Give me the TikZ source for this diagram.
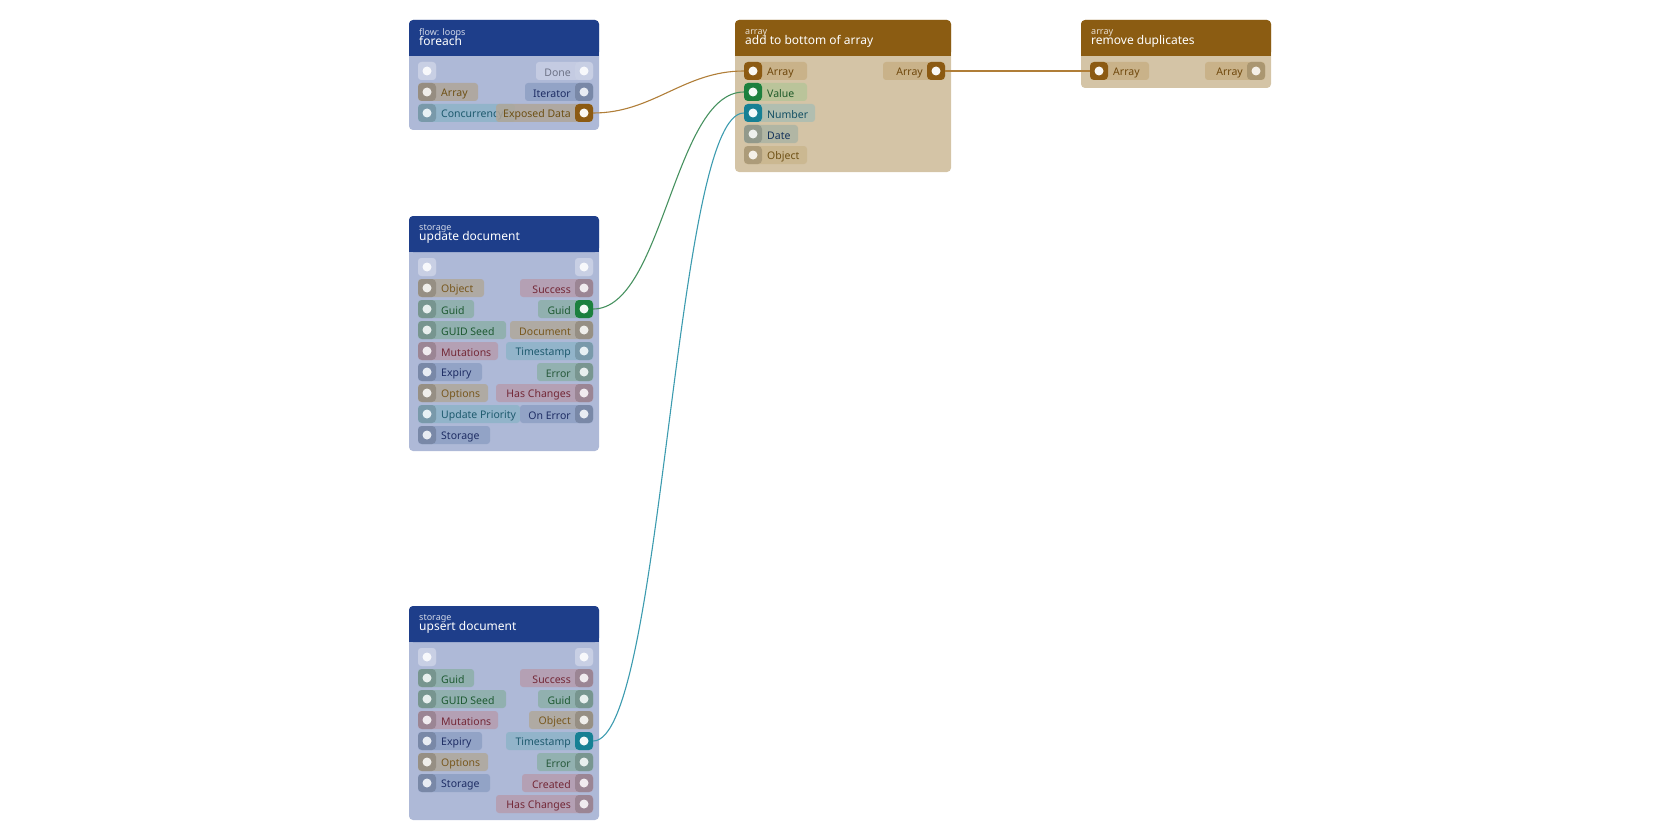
\documentclass[tikz,border=0pt]{standalone}
\usepackage{fontspec}
\setmainfont{Noto Sans}
\begin{document}
\definecolor{hdrB}{RGB}{30,62,138}
\definecolor{bodB}{RGB}{174,185,215}
\definecolor{hdrA}{RGB}{139,92,18}
\definecolor{bodA}{RGB}{212,196,166}
\definecolor{Pexe}{RGB}{200,207,228}\definecolor{Texe}{RGB}{110,115,135}
\definecolor{Pobj}{RGB}{176,168,155}\definecolor{Tobj}{RGB}{120,88,30}
\definecolor{Parr}{RGB}{176,166,152}\definecolor{Tarr}{RGB}{110,80,20}
\definecolor{Pgid}{RGB}{140,175,168}\definecolor{Tgid}{RGB}{30,90,50}
\definecolor{Pmut}{RGB}{182,156,174}\definecolor{Tmut}{RGB}{115,40,55}
\definecolor{Pblu}{RGB}{142,160,196}\definecolor{Tblu}{RGB}{30,45,100}
\definecolor{Ptea}{RGB}{142,180,200}\definecolor{Ttea}{RGB}{30,90,110}
\definecolor{Perr}{RGB}{142,176,170}\definecolor{Terr}{RGB}{40,90,60}
\definecolor{PaA}{RGB}{200,176,132}\definecolor{TaA}{RGB}{110,70,10}
\definecolor{Pval}{RGB}{182,196,152}\definecolor{Tval}{RGB}{30,90,40}
\definecolor{Pnum}{RGB}{172,190,178}\definecolor{Tnum}{RGB}{20,80,100}
\definecolor{Pdat}{RGB}{172,180,164}\definecolor{Tdat}{RGB}{20,50,90}
\definecolor{PoA}{RGB}{202,182,142}\definecolor{ToA}{RGB}{110,80,20}
\definecolor{HLo}{RGB}{140,90,18}
\definecolor{HLg}{RGB}{28,128,62}
\definecolor{HLt}{RGB}{22,128,148}
\definecolor{Eo}{RGB}{176,126,56}
\definecolor{Eg}{RGB}{70,145,95}
\definecolor{Et}{RGB}{60,155,175}
\tikzset{
  lbl/.style={text=#1,font=\fontsize{10.5}{12}\selectfont,inner sep=0},
  port/.style={rounded corners=4,fill=#1,minimum size=18,inner sep=0},
  dot/.style={circle,fill=#1,minimum size=9,inner sep=0},
  wire/.style={line width=1.1,draw=#1},
}
% left port: id, y, width, type, label, square color, dot color
\newcommand\LP[7]{%
  \fill[rounded corners=3,fill=P#4,fill opacity=0.85] (9,#2-9) rectangle ++(#3,18);
  \node[port=#6] (#1) at (18,#2) {};
  \node[dot=#7] at (18,#2) {};
  \node[lbl=T#4,anchor=west] at (32,#2+1.5) {#5};}
% right port: id, y, width, type, label, square color, dot color, right x
\newcommand\RP[8]{%
  \fill[rounded corners=3,fill=P#4,fill opacity=0.85] (#8-#3,#2-9) rectangle (#8,#2+9);
  \node[port=#6] (#1) at (#8-9,#2) {};
  \node[dot=#7] at (#8-9,#2) {};
  \node[lbl=T#4,anchor=east] at (#8-22,#2+1.5) {#5};}
\newcommand\NODE[6]{% w,h,header color,body color,cat,title
  \fill[rounded corners=4,fill=#4] (0,0) rectangle (#1,#2);
  \fill[rounded corners=4,fill=#3] (0,0) rectangle (#1,36);
  \fill[fill=#3] (0,20) rectangle (#1,36);
  \node[anchor=west,inner sep=0,text=white!80!#3,font=\fontsize{9}{10}\selectfont] at (10,13) {#5};
  \node[anchor=west,inner sep=0,text=white,font=\fontsize{12}{13}\selectfont] at (10,21) {#6};}
\begin{tikzpicture}[x=1pt,y=-1pt]
\useasboundingbox (0,0) rectangle (1680,840);
% foreach
\begin{scope}[shift={(409,20)}]
\NODE{190}{110}{hdrB}{bodB}{flow: loops}{foreach}
\LP{fe0}{51}{18}{exe}{}{Pexe}{white!85!Pexe}
\RP{feDone}{51}{57}{exe}{Done}{Pexe}{white!85!Pexe}{184}
\LP{feArr}{72}{60}{arr}{Array}{Parr!85!black}{white!80!Parr}
\RP{feIt}{72}{68}{blu}{Iterator}{Pblu!85!black}{white!80!Pblu}{184}
\LP{feCon}{93}{97}{tea}{Concurrency}{Ptea!85!black}{white!80!Ptea}
\RP{feExp}{93}{97}{arr}{Exposed Data}{HLo}{white!95!HLo}{184}
\end{scope}
% update document
\begin{scope}[shift={(409,216)}]
\NODE{190}{235}{hdrB}{bodB}{storage}{update document}
\LP{ud0}{51}{18}{exe}{}{Pexe}{white!85!Pexe}
\RP{ud1}{51}{18}{exe}{}{Pexe}{white!85!Pexe}{184}
\LP{udObj}{72}{66}{obj}{Object}{Pobj!85!black}{white!80!Pobj}
\RP{udSuc}{72}{73}{mut}{Success}{Pmut!85!black}{white!80!Pmut}{184}
\LP{udGuidI}{93}{56}{gid}{Guid}{Pgid!85!black}{white!80!Pgid}
\RP{udGuid}{93}{55}{gid}{Guid}{HLg}{white!95!HLg}{184}
\LP{udSeed}{114}{88}{gid}{GUID Seed}{Pgid!85!black}{white!80!Pgid}
\RP{udDoc}{114}{83}{obj}{Document}{Pobj!85!black}{white!80!Pobj}{184}
\LP{udMut}{135}{80}{mut}{Mutations}{Pmut!85!black}{white!80!Pmut}
\RP{udTs}{135}{87}{tea}{Timestamp}{Ptea!85!black}{white!80!Ptea}{184}
\LP{udExp}{156}{64}{blu}{Expiry}{Pblu!85!black}{white!80!Pblu}
\RP{udErr}{156}{56}{err}{Error}{Perr!85!black}{white!80!Perr}{184}
\LP{udOpt}{177}{70}{obj}{Options}{Pobj!85!black}{white!80!Pobj}
\RP{udHc}{177}{97}{mut}{Has Changes}{Pmut!85!black}{white!80!Pmut}{184}
\LP{udUp}{198}{102}{tea}{Update Priority}{Ptea!85!black}{white!80!Ptea}
\RP{udOe}{198}{73}{blu}{On Error}{Pblu!85!black}{white!80!Pblu}{184}
\LP{udSt}{219}{72}{blu}{Storage}{Pblu!85!black}{white!80!Pblu}
\end{scope}
% upsert document
\begin{scope}[shift={(409,606)}]
\NODE{190}{214}{hdrB}{bodB}{storage}{upsert document}
\LP{us0}{51}{18}{exe}{}{Pexe}{white!85!Pexe}
\RP{us1}{51}{18}{exe}{}{Pexe}{white!85!Pexe}{184}
\LP{usGuidI}{72}{56}{gid}{Guid}{Pgid!85!black}{white!80!Pgid}
\RP{usSuc}{72}{73}{mut}{Success}{Pmut!85!black}{white!80!Pmut}{184}
\LP{usSeed}{93}{88}{gid}{GUID Seed}{Pgid!85!black}{white!80!Pgid}
\RP{usGuid}{93}{55}{gid}{Guid}{Pgid!85!black}{white!80!Pgid}{184}
\LP{usMut}{114}{80}{mut}{Mutations}{Pmut!85!black}{white!80!Pmut}
\RP{usObj}{114}{64}{obj}{Object}{Pobj!85!black}{white!80!Pobj}{184}
\LP{usExp}{135}{64}{blu}{Expiry}{Pblu!85!black}{white!80!Pblu}
\RP{usTs}{135}{87}{tea}{Timestamp}{HLt}{white!95!HLt}{184}
\LP{usOpt}{156}{70}{obj}{Options}{Pobj!85!black}{white!80!Pobj}
\RP{usErr}{156}{56}{err}{Error}{Perr!85!black}{white!80!Perr}{184}
\LP{usSt}{177}{72}{blu}{Storage}{Pblu!85!black}{white!80!Pblu}
\RP{usCr}{177}{71}{mut}{Created}{Pmut!85!black}{white!80!Pmut}{184}
\RP{usHc}{198}{97}{mut}{Has Changes}{Pmut!85!black}{white!80!Pmut}{184}
\end{scope}
% add to bottom of array
\begin{scope}[shift={(735,20)}]
\NODE{216}{152}{hdrA}{bodA}{array}{add to bottom of array}
\LP{abArr}{51}{63}{aA}{Array}{HLo}{white!95!HLo}
\RP{abOut}{51}{62}{aA}{Array}{HLo}{white!95!HLo}{210}
\LP{abVal}{72}{63}{val}{Value}{HLg}{white!95!HLg}
\LP{abNum}{93}{71}{num}{Number}{HLt}{white!95!HLt}
\LP{abDat}{114}{54}{dat}{Date}{Pdat!85!black}{white!80!Pdat}
\LP{abObj}{135}{63}{oA}{Object}{PoA!85!black}{white!80!PoA}
\end{scope}
% remove duplicates
\begin{scope}[shift={(1081,20)}]
\NODE{190}{68}{hdrA}{bodA}{array}{remove duplicates}
\LP{rdArr}{51}{59}{aA}{Array}{HLo}{white!95!HLo}
\RP{rdOut}{51}{60}{aA}{Array}{PaA!85!black}{white!80!PaA}{184}
\end{scope}
% wires
\draw[wire=Eo] (feExp.east) .. controls +(60,0) and +(-60,0) .. (abArr.west);
\draw[wire=Eg] (udGuid.east) .. controls +(70,0) and +(-70,0) .. (abVal.west);
\draw[wire=Et] (usTs.east) .. controls +(70,0) and +(-70,0) .. (abNum.west);
\draw[wire=Eo] (abOut.east) -- (rdArr.west);
\end{tikzpicture}
\end{document}
